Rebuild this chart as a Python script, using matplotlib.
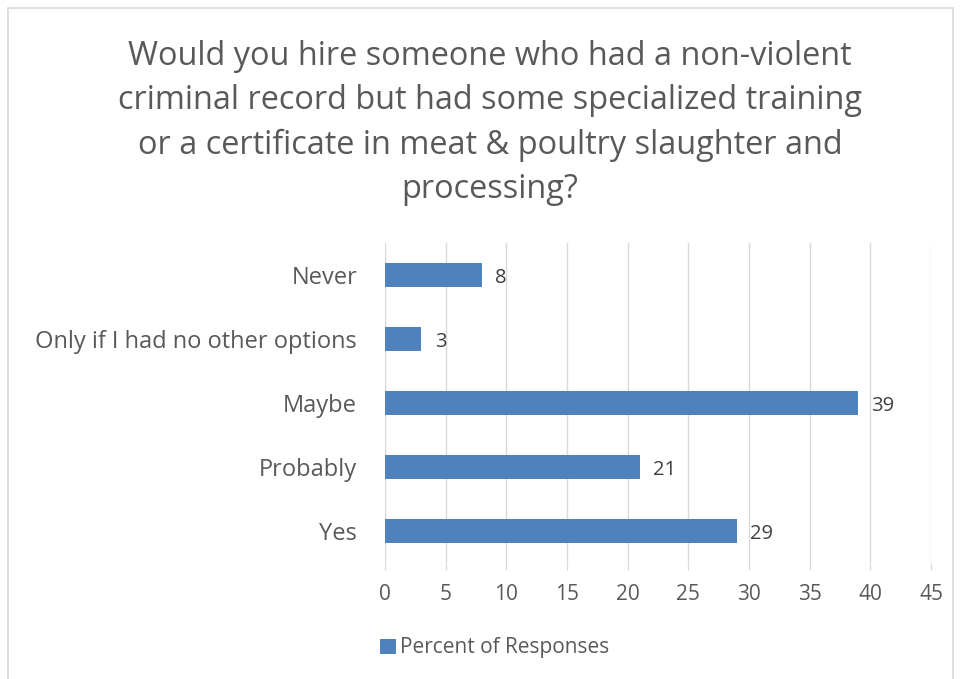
import matplotlib.pyplot as plt
from matplotlib.patches import Rectangle

categories = ["Never", "Only if I had no other options", "Maybe", "Probably", "Yes"]
values = [8, 3, 39, 21, 29]
x_ticks = [0, 5, 10, 15, 20, 25, 30, 35, 40, 45]

title = ("Would you hire someone who had a non-violent\n"
         "criminal record but had some specialized training\n"
         "or a certificate in meat & poultry slaughter and\n"
         "processing?")

bar_color = "#4F81BD"
text_color = "#595959"

plt.rcParams["font.family"] = ["Open Sans", "DejaVu Sans"]

fig = plt.figure(figsize=(9.61, 6.79), dpi=100)
fig.patches.append(Rectangle((8 / 961, -0.01), (953 - 8) / 961, (679 - 8) / 679 + 0.01,
                             transform=fig.transFigure, fill=False,
                             edgecolor="#D9D9D9", linewidth=1.2))

ax = fig.add_axes([385 / 961, (679 - 563) / 679, (931 - 385) / 961, (563 - 243) / 679])

ypos = list(range(len(categories)))
ax.barh(ypos, values, height=0.38, color=bar_color, zorder=3,
        label="Percent of Responses")
for y, v in zip(ypos, values):
    ax.text(v + 1.1, y + 0.05, str(v), va="center", ha="left", fontsize=14.5,
            color="#404040")

ax.set_ylim(len(categories) - 0.5, -0.5)
ax.set_yticks(ypos)
ax.set_yticklabels(categories, fontsize=17, color=text_color)
ax.set_xlim(0, 45)
ax.set_xticks(x_ticks)
ax.set_xticklabels([str(t) for t in x_ticks], fontsize=15, color=text_color)
ax.tick_params(axis="y", length=0, pad=20)
ax.tick_params(axis="x", length=5, color="#D9D9D9", pad=10)
ax.grid(axis="x", color="#D9D9D9", linewidth=1, zorder=0)
for s in ax.spines.values():
    s.set_visible(False)

fig.text(490 / 961, 1 - 123 / 679, title, ha="center", va="center",
         fontsize=23.4, color=text_color, linespacing=1.45)

fig.legend(loc="center", bbox_to_anchor=(495 / 961, 1 - 648 / 679),
           frameon=False, fontsize=15, handlelength=0.75, handleheight=0.75,
           handletextpad=0.2, labelcolor=text_color)

fig.savefig("out.png", dpi=100)
